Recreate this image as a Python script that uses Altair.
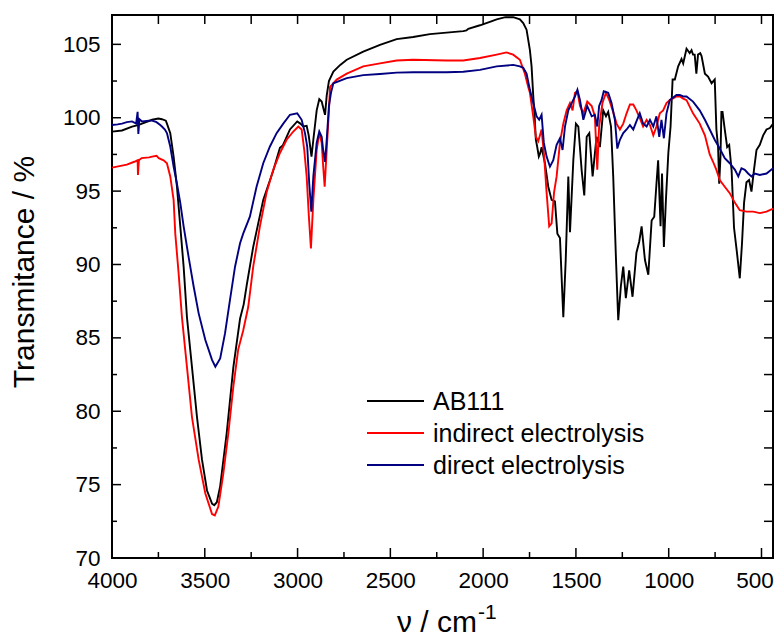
import altair as alt
import pandas as pd

# ---------------- data ----------------
series_names = ["AB111", "indirect electrolysis", "direct electrolysis"]
series_colors = ["#000000", "#ff0000", "#000080"]

ab_wn = [4000, 3946, 3892, 3860, 3838, 3784, 3750, 3731, 3710, 3704, 3686, 3668, 3650, 3632, 3614,
         3596, 3569, 3542, 3515, 3488, 3461, 3449, 3435, 3417, 3382, 3346, 3310, 3290, 3274, 3239,
         3185, 3131, 3095, 3080, 3041, 3002, 2985, 2969, 2951, 2940, 2925, 2915, 2897, 2883, 2870,
         2860, 2852, 2843, 2831, 2807, 2770, 2735, 2646, 2556, 2466, 2377, 2287, 2197, 2107, 2090,
         2080, 2017, 1960, 1927, 1880, 1838, 1802, 1784, 1766, 1748, 1739, 1730, 1722, 1716, 1709,
         1700, 1692, 1685, 1667, 1649, 1631, 1613, 1600, 1586, 1568, 1555, 1541, 1532, 1514, 1500,
         1487, 1469, 1455, 1442, 1428, 1410, 1389, 1371, 1353, 1338, 1326, 1311, 1299, 1284, 1272,
         1258, 1245, 1231, 1213, 1195, 1174, 1159, 1146, 1128, 1110, 1092, 1078, 1066, 1057, 1044,
         1036, 1026, 1015, 1002, 990, 979, 967, 949, 931, 922, 904, 887, 877, 869, 860,
         851, 842, 830, 823, 805, 788, 769, 752, 743, 734, 728, 721, 716, 710, 698,
         685, 674, 661, 648, 634, 617, 605, 594, 581, 567, 554, 541, 527, 509, 491,
         473, 455, 428, 410, 400]
ab_t = [99.05, 99.13, 99.4, 99.5, 99.6, 99.86, 99.95, 99.9, 99.8, 99.6, 98.95, 97.35, 95.3, 92.6, 89.85,
        86.4, 83.0, 79.6, 76.7, 74.6, 73.7, 73.6, 73.8, 74.9, 78.5, 83.0, 86.3, 87.3, 88.6, 91.2,
        94.4, 96.4, 97.95, 98.1, 99.2, 99.75, 99.6, 99.4, 99.45, 98.8, 97.35, 98.5, 100.5, 101.27, 101.1,
        100.6, 100.2, 101.5, 102.5, 103.15, 103.6, 103.95, 104.5, 104.97, 105.36, 105.5, 105.7, 105.8, 105.9, 105.95,
        106.06, 106.3, 106.55, 106.7, 106.85, 106.85, 106.7, 106.45, 106.0, 104.6, 103.5, 101.5, 100.0, 98.5, 98.04,
        97.35, 97.6, 98.0, 96.9, 95.3, 94.4, 94.3, 92.1, 91.8, 86.4, 90.3, 96.0, 92.2, 97.1, 99.6,
        99.4, 96.4, 94.7, 98.7, 98.95, 96.0, 98.7, 98.0, 100.5, 100.1, 100.4, 99.4, 96.0, 90.3, 86.2,
        88.5, 89.85, 87.7, 89.6, 87.8, 90.8, 91.55, 92.6, 90.3, 89.3, 93.0, 93.25, 95.5, 97.1, 92.6,
        96.2, 91.2, 94.4, 97.6, 99.4, 102.6, 102.6, 103.5, 104.0, 103.7, 104.7, 104.4, 104.6, 104.3, 104.3,
        103.0, 104.3, 104.4, 104.2, 103.0, 102.8, 102.35, 102.6, 99.2, 98.0, 95.5, 97.35, 100.4, 100.4, 99.2,
        98.0, 98.15, 96.4, 92.5, 91.0, 89.06, 91.45, 94.2, 95.6, 95.76, 94.97, 96.4, 97.8, 98.15, 98.8,
        99.2, 99.3, 99.75, 100.2, 100.3]

ind_wn = [4000, 3960, 3920, 3880, 3862, 3860, 3855, 3840, 3800, 3784, 3760, 3748, 3722, 3704, 3686,
          3668, 3659, 3641, 3623, 3596, 3569, 3533, 3497, 3461, 3446, 3427, 3400, 3373, 3346, 3320,
          3293, 3266, 3239, 3203, 3167, 3131, 3095, 3059, 3023, 2996, 2978, 2964, 2951, 2939, 2928,
          2915, 2897, 2883, 2870, 2862, 2854, 2843, 2831, 2825, 2789, 2735, 2646, 2556, 2466, 2377,
          2197, 2107, 2017, 1927, 1874, 1838, 1802, 1775, 1757, 1748, 1730, 1716, 1703, 1685, 1671,
          1658, 1644, 1631, 1618, 1604, 1586, 1568, 1550, 1532, 1518, 1505, 1492, 1478, 1460, 1439,
          1415, 1398, 1385, 1375, 1357, 1338, 1320, 1302, 1281, 1263, 1245, 1227, 1209, 1191, 1174,
          1156, 1138, 1119, 1101, 1083, 1066, 1048, 1030, 1012, 994, 958, 940, 922, 904, 869,
          833, 805, 779, 761, 743, 725, 698, 671, 643, 617, 581, 545, 509, 473, 437,
          410, 400]
ind_t = [96.6, 96.7, 96.8, 97.0, 97.1, 96.1, 97.1, 97.25, 97.3, 97.35, 97.4, 97.25, 97.1, 96.9, 96.0,
         94.4, 92.1, 89.4, 86.4, 83.0, 79.6, 76.7, 74.4, 73.0, 72.9, 73.5, 75.76, 78.5, 81.7, 84.2,
         85.5, 87.1, 89.85, 92.6, 94.9, 96.45, 97.6, 98.5, 99.06, 99.4, 99.2, 97.8, 96.0, 93.26, 91.1,
         94.4, 97.8, 98.95, 98.3, 96.7, 95.3, 97.8, 100.5, 102.1, 102.6, 103.0, 103.5, 103.7, 103.9, 103.95,
         103.9, 103.9, 104.07, 104.3, 104.45, 104.3, 103.95, 103.0, 102.1, 101.7, 100.1, 98.7, 98.4, 99.2, 97.35,
         94.9, 92.6, 92.8, 94.9, 96.0, 98.3, 99.6, 100.5, 101.0, 100.5, 101.7, 101.8, 100.8, 100.3, 101.1,
         100.8, 100.1, 96.45, 99.4, 101.0, 101.7, 101.2, 100.5, 99.6, 99.2, 99.6, 100.3, 100.9, 100.9, 100.5,
         99.98, 99.4, 99.86, 99.5, 98.8, 99.4, 100.3, 100.5, 101.0, 101.2, 101.45, 101.45, 101.3, 101.2, 100.3,
         99.6, 98.8, 97.5, 97.0, 96.45, 95.76, 95.3, 94.86, 94.2, 93.7, 93.6, 93.6, 93.5, 93.6, 93.8,
         94.05, 94.4]

dir_wn = [4000, 3970, 3946, 3920, 3892, 3870, 3862, 3858, 3852, 3838, 3800, 3784, 3760, 3740, 3731,
          3715, 3704, 3686, 3668, 3650, 3632, 3614, 3587, 3560, 3533, 3497, 3461, 3443, 3417, 3391,
          3364, 3337, 3310, 3293, 3257, 3221, 3185, 3149, 3113, 3077, 3041, 3002, 2978, 2960, 2948,
          2937, 2926, 2915, 2897, 2883, 2870, 2862, 2852, 2843, 2831, 2820, 2807, 2735, 2646, 2556,
          2466, 2377, 2197, 2107, 2017, 1927, 1838, 1802, 1784, 1766, 1748, 1730, 1712, 1698, 1685,
          1673, 1658, 1640, 1622, 1604, 1586, 1572, 1559, 1541, 1523, 1505, 1492, 1478, 1460, 1439,
          1415, 1398, 1385, 1375, 1362, 1350, 1326, 1308, 1290, 1277, 1263, 1245, 1227, 1209, 1191,
          1174, 1156, 1138, 1119, 1101, 1083, 1066, 1051, 1039, 1026, 1012, 994, 958, 940, 922,
          904, 869, 833, 805, 779, 752, 725, 698, 671, 643, 625, 608, 590, 572, 554,
          536, 509, 473, 437, 410, 400]
dir_t = [99.5, 99.55, 99.6, 99.7, 99.75, 99.6, 100.4, 98.9, 99.9, 99.75, 99.8, 99.8, 99.7, 99.5, 99.4,
         99.2, 98.95, 98.04, 96.67, 95.5, 94.2, 92.6, 90.5, 88.5, 86.67, 84.85, 83.5, 83.03, 83.6, 85.3,
         87.6, 89.85, 91.45, 92.1, 93.26, 95.3, 96.9, 98.04, 98.95, 99.6, 100.2, 100.3, 99.86, 98.95, 98.04,
         95.5, 93.6, 96.0, 98.3, 99.06, 98.7, 97.8, 97.0, 98.5, 100.8, 101.7, 102.35, 102.7, 102.9, 102.98,
         103.07, 103.1, 103.1, 103.13, 103.26, 103.5, 103.6, 103.5, 103.4, 103.0, 101.9, 101.0, 100.1, 99.86, 100.2,
         98.3, 97.35, 96.67, 97.1, 98.15, 98.6, 97.8, 99.4, 100.5, 101.0, 101.45, 101.9, 101.2, 99.86, 100.8,
         100.1, 100.2, 99.4, 100.8, 101.2, 101.8, 101.7, 101.0, 99.86, 97.9, 98.5, 98.95, 99.2, 99.5, 99.2,
         99.75, 100.3, 99.6, 99.4, 99.86, 99.4, 100.1, 98.7, 99.86, 98.6, 100.3, 101.2, 101.55, 101.55, 101.45,
         101.45, 101.1, 100.5, 99.86, 99.2, 98.5, 97.9, 97.25, 96.9, 96.45, 96.0, 96.56, 96.45, 96.2, 96.0,
         96.2, 96.1, 96.2, 96.56, 96.9, 97.3]

x_major = [4000, 3500, 3000, 2500, 2000, 1500, 1000, 500]
x_minor = [3750, 3250, 2750, 2250, 1750, 1250, 750]
x_all = [3750, 3500, 3250, 3000, 2750, 2500, 2250, 2000, 1750, 1500, 1250, 1000, 750, 500]
y_major = [70, 75, 80, 85, 90, 95, 100, 105]
y_minor = [72.5, 77.5, 82.5, 87.5, 92.5, 97.5, 102.5]
y_all = [72.5, 75, 77.5, 80, 82.5, 85, 87.5, 90, 92.5, 95, 97.5, 100, 102.5, 105]

rows = []
for name, wn, tt in [(series_names[0], ab_wn, ab_t),
                     (series_names[1], ind_wn, ind_t),
                     (series_names[2], dir_wn, dir_t)]:
    for i, (w, v) in enumerate(zip(wn, tt)):
        rows.append({"series": name, "wn": w, "T": v, "idx": i})
df = pd.DataFrame(rows)

FONT = "Liberation Sans"
# the page leaves 766 px of width, so the plot stops 7 px short of the
# reference's right edge while keeping the same cm-1 per pixel
W, H = 661, 543

xscale = alt.Scale(domain=[438, 4000], reverse=True, nice=False, zero=False)
yscale = alt.Scale(domain=[70, 107], nice=False, zero=False)
color = alt.Color("series:N", scale=alt.Scale(domain=series_names, range=series_colors), legend=None)

xaxis = alt.Axis(values=x_major, format="d", title=None, grid=False, domain=False,
                 ticks=False, labelFont=FONT, labelFontSize=22.5, labelColor="black",
                 labelPadding=11, labelFlush=False, labelOverlap=False,
                 labelOffset={"condition": {"test": "datum.value == 500", "value": -7}, "value": 0})
yaxis = alt.Axis(values=y_major, format="d", title=None, grid=False, domain=False,
                 ticks=False, labelFont=FONT, labelFontSize=22.5, labelColor="black",
                 labelPadding=12, labelOverlap=False)

lines = alt.Chart(df).mark_line(strokeWidth=1.9, clip=True).encode(
    x=alt.X("wn:Q", scale=xscale, axis=xaxis),
    y=alt.Y("T:Q", scale=yscale, axis=yaxis),
    color=color,
    order=alt.Order("idx:Q"),
)


def xticks(vals, y0, y1):
    return alt.Chart(pd.DataFrame({"v": vals})).mark_rule(color="black", strokeWidth=1.5).encode(
        x=alt.X("v:Q", scale=xscale, axis=xaxis), y=alt.value(y0), y2=alt.value(y1))


def yticks(vals, x0, x1):
    return alt.Chart(pd.DataFrame({"v": vals})).mark_rule(color="black", strokeWidth=1.5).encode(
        y=alt.Y("v:Q", scale=yscale, axis=yaxis), x=alt.value(x0), x2=alt.value(x1))


ticks = [
    xticks(x_major, H, H - 10),
    xticks(x_minor, H, H - 6),
    xticks(x_all, 0, 9),
    yticks(y_major, 0, 9),
    yticks(y_minor, 0, 5),
    yticks(y_all, W, W - 9),
]

one = alt.Data(values=[{"k": 1}])
extra = []
for i, (name, col) in enumerate(zip(series_names, series_colors)):
    yy = 386 + 32 * i
    extra.append(alt.Chart(one).mark_rule(color=col, strokeWidth=1.8).encode(
        x=alt.value(255), x2=alt.value(312), y=alt.value(yy)))
    extra.append(alt.Chart(one).mark_text(text=name, font=FONT, fontSize=25, align="left",
                                          baseline="middle", color="black").encode(
        x=alt.value(321), y=alt.value(yy + 1)))

ytitle = alt.Chart(one).mark_text(text="Transmitance / %", font=FONT, fontSize=30, angle=270,
                                  align="center", baseline="middle", color="black").encode(
    x=alt.value(-87), y=alt.value(257))
xtitle = alt.Chart(one).mark_text(text="\u03bd / cm", font=FONT, fontSize=30, align="left",
                                  baseline="alphabetic", color="black").encode(
    x=alt.value(285), y=alt.value(617))
xsup = alt.Chart(one).mark_text(text="-1", font=FONT, fontSize=21, align="left",
                                baseline="alphabetic", color="black").encode(
    x=alt.value(366), y=alt.value(604))

chart = alt.layer(lines, *ticks, *extra, ytitle, xtitle, xsup).properties(
    width=W, height=H,
    autosize=alt.AutoSizeParams(type="none"),
    padding={"left": 104, "top": 7, "right": 1, "bottom": 82},
    background="white",
).configure_view(stroke="black", strokeWidth=2)

chart.save("out.html", embed_options={"renderer": "svg", "actions": False})
